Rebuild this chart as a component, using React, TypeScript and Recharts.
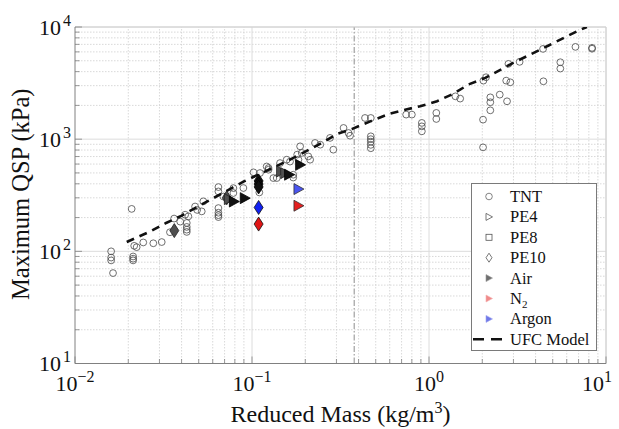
import React from 'react';
import { ScatterChart, Scatter, XAxis, YAxis, ReferenceLine, Legend } from 'recharts';

const FONT = '"Liberation Serif", "Times New Roman", Times, serif';

// ---- axis ticks ----
const xMajorTicks = [0.01, 0.1, 1, 10];
const xTickExponents = ['\u22122', '\u22121', '0', '1'];
const xMinorTicks = [0.02, 0.03, 0.04, 0.05, 0.06, 0.07, 0.08, 0.09, 0.2, 0.3, 0.4, 0.5, 0.6, 0.7, 0.8, 0.9, 2, 3, 4, 5, 6, 7, 8, 9];
const yMajorTicks = [10, 100, 1000, 10000];
const yTickExponents = ['1', '2', '3', '4'];
const yMinorTicks = [20, 30, 40, 50, 60, 70, 80, 90, 200, 300, 400, 500, 600, 700, 800, 900, 2000, 3000, 4000, 5000, 6000, 7000, 8000, 9000];

// vertical reference (dash-dot) position
const refMass = [0.378];

// ---- TNT (open circles) ----
const tntX = [0.0209, 0.016, 0.016, 0.016, 0.0164, 0.0216, 0.0223, 0.0213, 0.0213, 0.0213, 0.0243, 0.0277, 0.0309, 0.0344, 0.0363, 0.0393, 0.0419, 0.0437, 0.0428, 0.0428, 0.0428, 0.0428, 0.049, 0.0477, 0.0531, 0.052, 0.0646, 0.0646, 0.0646, 0.0646, 0.0646, 0.0646, 0.0689, 0.0785, 0.0785, 0.0894, 0.102, 0.111, 0.110, 0.121, 0.124, 0.124, 0.132, 0.138, 0.144, 0.157, 0.164, 0.171, 0.171, 0.183, 0.180, 0.187, 0.191, 0.208, 0.213, 0.227, 0.243, 0.276, 0.288, 0.329, 0.351, 0.358, 0.435, 0.469, 0.469, 0.469, 0.469, 0.469, 0.469, 0.743, 0.80, 0.911, 0.911, 0.911, 1.10, 1.10, 1.41, 1.50, 2.03, 2.10, 2.22, 2.22, 2.22, 2.02, 2.02, 2.51, 2.76, 2.73, 2.88, 2.81, 3.25, 4.41, 4.43, 5.52, 5.52, 6.72, 8.34, 8.34];
const tntY = [239, 100, 88, 83, 64, 112, 109, 90, 86, 83, 120, 118, 121, 148, 196, 184, 212, 205, 179, 165, 156, 149, 234, 251, 279, 227, 374, 342, 243, 221, 210, 202, 308, 366, 331, 367, 506, 499, 335, 571, 553, 534, 450, 450, 612, 656, 631, 482, 455, 656, 728, 863, 754, 702, 656, 925, 893, 1026, 806, 1259, 1135, 1074, 1545, 1545, 1060, 1000, 950, 890, 830, 1656, 1656, 1396, 1300, 1175, 1714, 1514, 2410, 2300, 3326, 3565, 2360, 2133, 1807, 1493, 845, 2495, 2176, 3326, 3213, 4690, 4890, 6380, 3280, 4850, 4260, 6650, 6520, 6400];

// ---- filled markers (explosive shape, gas colour) ----
const pe10AirGrayX = [0.0364, 0.072];
const pe10AirGrayY = [153, 300];
const pe4AirGrayX = [0.074, 0.146, 0.154];
const pe4AirGrayY = [292, 515, 498];
const pe4AirBlackX = [0.079, 0.091, 0.162, 0.187];
const pe4AirBlackY = [278, 298, 482, 590];
const pe10AirBlackX = [0.109, 0.109, 0.109];
const pe10AirBlackY = [424, 398, 375];
const pe10ArgonX = [0.109];
const pe10ArgonY = [246];
const pe10N2X = [0.109];
const pe10N2Y = [175];
const pe4ArgonX = [0.183];
const pe4ArgonY = [359];
const pe4N2X = [0.183];
const pe4N2Y = [255];

// ---- UFC model ----
const ufcX = [0.0196, 0.0265, 0.0327, 0.0401, 0.0488, 0.0605, 0.090, 0.164, 0.248, 0.302, 0.366, 0.466, 0.60, 0.733, 0.89, 1.11, 1.38, 1.67, 2.08, 2.99, 4.74, 7.0, 7.8];
const ufcY = [121, 150, 179, 208, 248, 298, 420, 656, 925, 1112, 1230, 1442, 1690, 1832, 1963, 2178, 2547, 3070, 3515, 4790, 6840, 9310, 10000];

// ---- legend ----
const legendLabels = ['TNT', 'PE4', 'PE8', 'PE10', 'Air', 'N2', 'Argon', 'UFC Model'];

const toPts = (xs: number[], ys: number[]) => xs.map((x, i) => ({ x, y: ys[i] }));

const circleShape = (p: any) => (
  <circle cx={p.cx} cy={p.cy} r={3.4} fill="none" stroke="#4a4a4a" strokeWidth={0.8} />
);
const triShape = (fill: string, stroke: string) => (p: any) => (
  <path d={`M${p.cx - 4.5},${p.cy - 5.5} L${p.cx + 5.5},${p.cy} L${p.cx - 4.5},${p.cy + 5.5} Z`} fill={fill} stroke={stroke} strokeWidth={0.8} />
);
const diaShape = (fill: string, stroke: string) => (p: any) => (
  <path d={`M${p.cx},${p.cy - 7} L${p.cx + 4.5},${p.cy} L${p.cx},${p.cy + 7} L${p.cx - 4.5},${p.cy} Z`} fill={fill} stroke={stroke} strokeWidth={0.8} />
);
const noShape = () => <g />;

const XTick = (props: any) => {
  const { x, y, payload } = props;
  const i = xMajorTicks.indexOf(payload.value);
  const major = i >= 0;
  const isLast = i === xMajorTicks.length - 1;
  return (
    <g>
      <line x1={x} x2={x} y1={y} y2={y - (major ? 7 : 4.5)} stroke="#808080" strokeWidth={0.8} />
      {major && (
        <text x={isLast ? x + 6 : x} y={y + 27.5} textAnchor={isLast ? 'end' : 'middle'} fontFamily={FONT} fontSize={22} fill="#111">
          10<tspan dy={-9} fontSize={16}>{xTickExponents[i]}</tspan>
        </text>
      )}
    </g>
  );
};

const YTick = (props: any) => {
  const { x, y, payload } = props;
  const i = yMajorTicks.indexOf(payload.value);
  const major = i >= 0;
  return (
    <g>
      <line x1={x} x2={x + (major ? 7 : 4.5)} y1={y} y2={y} stroke="#808080" strokeWidth={0.8} />
      {major && (
        <text x={x - 14} y={y + 7.5} textAnchor="end" fontFamily={FONT} fontSize={22} fill="#111">
          10
        </text>
      )}
      {major && (
        <text x={x - 4} y={y - 1.5} textAnchor="end" fontFamily={FONT} fontSize={16} fill="#111">
          {yTickExponents[i]}
        </text>
      )}
    </g>
  );
};

const XTitle = (p: any) => {
  const vb = p.viewBox || { x: 75, y: 363.5, width: 531, height: 65.5 };
  return (
    <text x={vb.x + vb.width / 2} y={vb.y + 58} textAnchor="middle" fontFamily={FONT} fontSize={24} fill="#111">
      Reduced Mass (kg/m<tspan dy={-9} fontSize={16}>3</tspan><tspan dy={9}>)</tspan>
    </text>
  );
};

const YTitle = (p: any) => {
  const vb = p.viewBox || { x: 0, y: 27, width: 75, height: 336.5 };
  const cx = vb.x + 28.5;
  const cy = vb.y + vb.height / 2 - 1;
  return (
    <text x={cx} y={cy} transform={`rotate(-90, ${cx}, ${cy})`} textAnchor="middle" fontFamily={FONT} fontSize={24.5} fill="#111">
      Maximum QSP (kPa)
    </text>
  );
};

const LegendIcon = ({ name, cx, cy }: { name: string; cx: number; cy: number }) => {
  switch (name) {
    case 'TNT':
      return <circle cx={cx} cy={cy} r={3.3} fill="none" stroke="#666" strokeWidth={0.8} />;
    case 'PE4':
      return <path d={`M${cx - 3},${cy - 3.5} L${cx + 3.5},${cy} L${cx - 3},${cy + 3.5} Z`} fill="none" stroke="#555" strokeWidth={0.8} />;
    case 'PE8':
      return <rect x={cx - 3} y={cy - 3} width={6} height={6} fill="none" stroke="#555" strokeWidth={0.8} />;
    case 'PE10':
      return <path d={`M${cx},${cy - 4.5} L${cx + 3},${cy} L${cx},${cy + 4.5} L${cx - 3},${cy} Z`} fill="none" stroke="#555" strokeWidth={0.8} />;
    case 'Air':
      return <path d={`M${cx - 3},${cy - 3.5} L${cx + 3.5},${cy} L${cx - 3},${cy + 3.5} Z`} fill="#6e6e6e" stroke="#999" strokeWidth={0.6} />;
    case 'N2':
      return <path d={`M${cx - 3},${cy - 3.5} L${cx + 3.5},${cy} L${cx - 3},${cy + 3.5} Z`} fill="#f08a8a" stroke="#f5b0b0" strokeWidth={0.6} />;
    case 'Argon':
      return <path d={`M${cx - 3},${cy - 3.5} L${cx + 3.5},${cy} L${cx - 3},${cy + 3.5} Z`} fill="#7078e8" stroke="#a0a6f0" strokeWidth={0.6} />;
    default:
      return <line x1={cx - 16} x2={cx + 14} y1={cy} y2={cy} stroke="#111" strokeWidth={2.5} strokeDasharray="11 7" />;
  }
};

const renderLegend = () => (
  <svg width={126} height={168} style={{ display: 'block' }}>
    <rect x={0.5} y={0.5} width={125} height={167} fill="#fff" stroke="#7a7a7a" strokeWidth={1} />
    {legendLabels.map((name, i) => {
      const cy = 13.5 + i * 20.4;
      return (
        <g key={name}>
          <LegendIcon name={name} cx={18} cy={cy} />
          <text x={39} y={cy + 5.5} fontFamily={FONT} fontSize={16.5} fill="#111">
            {name === 'N2' ? (
              <>
                N<tspan dy={4} fontSize={11}>2</tspan>
              </>
            ) : (
              name
            )}
          </text>
        </g>
      );
    })}
  </svg>
);

export default function App() {
  return (
    <div style={{ position: 'absolute', left: 0, top: 0, width: 619, height: 429, background: '#fff' }}>
      <ScatterChart width={619} height={429} margin={{ top: 27, right: 13, left: 0, bottom: 0 }}>
        <XAxis
          dataKey="x"
          type="number"
          scale="log"
          domain={[0.01, 10]}
          allowDataOverflow
          ticks={[...xMajorTicks, ...xMinorTicks]}
          interval={0}
          tickSize={0}
          tickMargin={0}
          tick={XTick}
          height={65.5}
          axisLine={{ stroke: '#808080', strokeWidth: 1 }}
          label={{ content: XTitle }}
        />
        <YAxis
          dataKey="y"
          type="number"
          scale="log"
          domain={[10, 10000]}
          allowDataOverflow
          ticks={[...yMajorTicks, ...yMinorTicks]}
          interval={0}
          tickSize={0}
          tickMargin={0}
          tick={YTick}
          width={75}
          axisLine={{ stroke: '#808080', strokeWidth: 1 }}
          label={{ content: YTitle }}
        />
        {xMinorTicks.map((v) => (
          <ReferenceLine key={`xm${v}`} x={v} stroke="#cfcfcf" strokeWidth={0.8} strokeDasharray="1.5 1.5" />
        ))}
        {yMinorTicks.map((v) => (
          <ReferenceLine key={`ym${v}`} y={v} stroke="#cfcfcf" strokeWidth={0.8} strokeDasharray="1.5 1.5" />
        ))}
        {xMajorTicks.slice(1).map((v) => (
          <ReferenceLine key={`xM${v}`} x={v} stroke="#dcdcdc" strokeWidth={1} />
        ))}
        {yMajorTicks.slice(1).map((v) => (
          <ReferenceLine key={`yM${v}`} y={v} stroke="#dcdcdc" strokeWidth={1} />
        ))}
        {refMass.map((v) => (
          <ReferenceLine key={`ref${v}`} x={v} stroke="#a0a0a0" strokeWidth={1.2} strokeDasharray="6 2 1.5 2" />
        ))}
        <Scatter name="TNT" data={toPts(tntX, tntY)} shape={circleShape} isAnimationActive={false} />
        <Scatter
          name="UFC Model"
          data={toPts(ufcX, ufcY)}
          shape={noShape}
          line={{ stroke: '#111', strokeWidth: 2.6, strokeDasharray: '8 6' }}
          lineType="joint"
          isAnimationActive={false}
        />
        <Scatter name="PE10 Air" data={toPts(pe10AirGrayX, pe10AirGrayY)} shape={diaShape('#4f4f4f', '#222')} isAnimationActive={false} />
        <Scatter name="PE4 Air" data={toPts(pe4AirGrayX, pe4AirGrayY)} shape={triShape('#4f4f4f', '#222')} isAnimationActive={false} />
        <Scatter name="PE4 Air B" data={toPts(pe4AirBlackX, pe4AirBlackY)} shape={triShape('#111', '#000')} isAnimationActive={false} />
        <Scatter name="PE10 Air B" data={toPts(pe10AirBlackX, pe10AirBlackY)} shape={diaShape('#111', '#000')} isAnimationActive={false} />
        <Scatter name="PE10 Argon" data={toPts(pe10ArgonX, pe10ArgonY)} shape={diaShape('#1020f0', '#111')} isAnimationActive={false} />
        <Scatter name="PE10 N2" data={toPts(pe10N2X, pe10N2Y)} shape={diaShape('#e01515', '#111')} isAnimationActive={false} />
        <Scatter name="PE4 Argon" data={toPts(pe4ArgonX, pe4ArgonY)} shape={triShape('#4a55f0', '#333')} isAnimationActive={false} />
        <Scatter name="PE4 N2" data={toPts(pe4N2X, pe4N2Y)} shape={triShape('#e52020', '#333')} isAnimationActive={false} />
        <ReferenceLine y={10000} stroke="#d0d0d0" strokeWidth={1} />
        <ReferenceLine x={10} stroke="#d0d0d0" strokeWidth={1} />
        <Legend
          content={renderLegend}
          layout="horizontal"
          verticalAlign="middle"
          align="center"
          wrapperStyle={{ left: 471, top: 183, width: 126, height: 168 }}
        />
      </ScatterChart>
    </div>
  );
}
